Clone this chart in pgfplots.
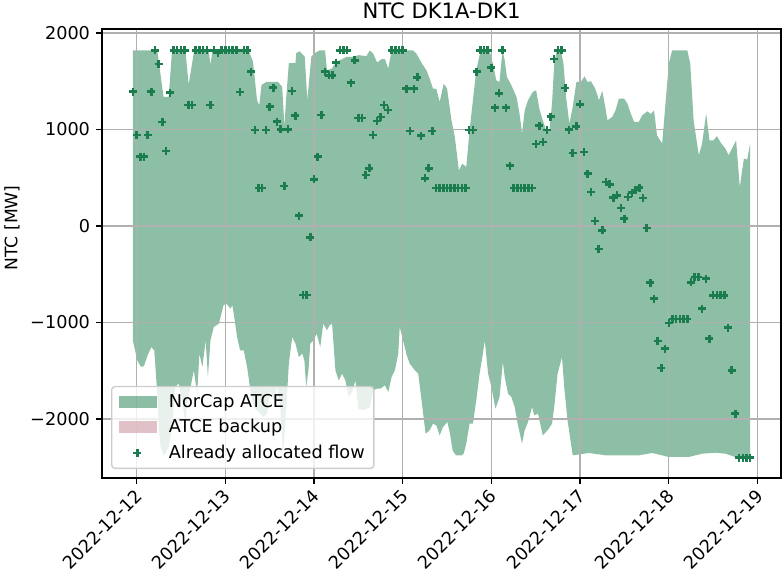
\documentclass[border=0pt]{standalone}
\usepackage{fontspec}
\setmainfont{DejaVu Sans}
\usepackage{pgfplots}
\pgfplotsset{compat=1.18}
\definecolor{ncgreen}{RGB}{27,125,77}
\definecolor{atcepink}{RGB}{218,178,187}
\definecolor{gridgray}{RGB}{176,176,176}
\pgfplotsset{patchlegend/.style={legend image code/.code={\fill[sharp corners] (0pt,-3.7pt) rectangle (22.5pt,3.7pt); \path (0pt,0pt) (28pt,0pt);}}}
\begin{document}
\begin{tikzpicture}
\begin{axis}[
  scale only axis,
  width=407.4pt, height=269.4pt,
  xmin=-9.35, xmax=174.35, ymin=-2611, ymax=2041,
  axis on top,
  grid=major,
  grid style={gridgray, line width=0.8pt},
  axis line style={line width=0.8pt},
  tick style={black, line width=0.8pt},
  tick align=outside, tick pos=left,
  major tick length=3.5pt,
  xtick={0,24,48,72,96,120,144,168},
  xticklabels={2022-12-12,2022-12-13,2022-12-14,2022-12-15,2022-12-16,2022-12-17,2022-12-18,2022-12-19},
  ytick={-2000,-1000,0,1000,2000},
  yticklabels={−2000,−1000,0,1000,2000},
  ticklabel style={font=\fontsize{10.6}{12.7}\selectfont},
  xticklabel style={rotate=45, anchor=north east, inner sep=0pt, xshift=-2.8pt, yshift=-0.5pt},
  yticklabel style={inner sep=0pt, xshift=-3.5pt},
  title={NTC DK1A-DK1},
  every axis title/.style={font=\fontsize{12.7}{15}\selectfont, at={(0.5,1)}, anchor=base, yshift=6pt},
  ylabel={NTC [MW]},
  every axis y label/.style={font=\fontsize{10.3}{12.4}\selectfont, at={(axis description cs:-0.1325,0.557)}, anchor=center, rotate=90},
  legend cell align=left,
  legend style={at={(axis description cs:0.0133,0.02)}, anchor=south west,
    draw=black!20, line width=0.8pt, rounded corners=2pt, fill=white, fill opacity=0.8, text opacity=1,
    font=\fontsize{10.6}{12.7}\selectfont, row sep=2.8pt, inner xsep=4pt, inner ysep=3pt,
    nodes={inner sep=1.5pt}},
]
\addplot[draw=none, fill=ncgreen, fill opacity=0.5, patchlegend] coordinates {
(-1,1820) (5.6,1820) (7.3,1337) (8.7,1337) (9.6,1820) (13.2,1820) (14.1,1465) (15.6,1820)
(19.5,1820) (20,1665) (20.5,1820) (30.3,1820) (31.5,1703) (32.6,1302) (33.2,1250) (33.8,1461)
(35.1,1492) (38.3,1492) (39.4,1440) (40,1030) (40.5,1337) (41.2,1686) (43,1690) (43.2,1790)
(44.1,1810) (45.5,1755) (46.2,1306) (47.3,1758) (48.6,1800) (49.6,1820) (51,1820) (51.5,1614)
(52.8,1630) (54.1,1700) (56.8,1751) (58.6,1751) (60,1770) (62.2,1760) (63.1,1820) (64,1786)
(65.1,1693) (66.3,1730) (67.2,1730) (68.1,1630) (69,1820) (74.8,1820) (75.7,1786) (77.5,1665)
(78.4,1614) (79.3,1527) (80.2,1424) (81.1,1420) (82,1285) (83.1,1475) (84,1424) (85.2,1095)
(86.1,922) (87.2,577) (88.1,646) (89.2,612) (90.1,992) (91,1302) (91.9,1614) (92.8,1770)
(93.7,1820) (95.5,1820) (96.4,1683) (97.3,1510) (98.2,1492) (99,1820) (99.6,1717) (100.2,1544)
(101.4,1458) (102.8,1337) (103.6,1165) (104.3,957) (105,1199) (105.9,1302) (107.2,1389) (108.1,1406)
(109,1210) (109.9,1095) (110.8,992) (111.7,992) (112.4,1268) (113,1683) (113.7,1820) (114.8,1820)
(115.5,1683) (116.2,1337) (117.1,1061) (118,1233) (119,1492) (120.2,1492) (121.2,1551) (122,1492)
(122.9,1500) (124.1,1424) (125.1,1302) (126,1399) (126.8,1233) (127.4,1095) (128.7,1130) (129.6,1199)
(130.5,1320) (131.9,1320) (132.8,1268) (133.7,1165) (134.6,1078) (135.9,1078) (136.8,1147) (138.2,1188)
(139.1,1160) (140,1199) (140.8,940) (142.2,854) (143.1,1268) (144,1683) (144.9,1820) (149,1820)
(149.8,1683) (150.7,1095) (152.1,733) (153,854) (154.1,1165) (155,888) (156.1,888) (157,930)
(158.2,854) (159.3,802) (160.2,733) (161.1,802) (162.2,888) (163.2,404) (164.3,698) (165.2,688)
(166,854)
(166,-2393) (162,-2393) (159.3,-2359) (156.6,-2349) (153,-2359) (149.4,-2393) (144,-2393) (139.5,-2352)
(135.9,-2376) (133.3,-2376) (126.9,-2376) (122.4,-2352) (118,-2376) (116.6,-2014) (115.7,-1668) (115.1,-1357)
(113.9,-1530) (113,-1876) (112.4,-2048) (111.2,-2117) (109.9,-2169) (108.6,-1944) (107.6,-1962) (107,-1876)
(105.9,-2031) (105,-2117) (104.3,-2255) (103.1,-2048) (102.3,-1876) (101.4,-1772) (100.5,-1737) (99.6,-1564)
(99.1,-1409) (98.2,-1772) (97.1,-1893) (96,-1668) (95.1,-1530) (94.2,-1184) (93.7,-1322) (92.8,-1530)
(91.9,-1806) (91,-2048) (90.1,-2048) (89.2,-2255) (88.5,-2359) (87.9,-2376) (86.4,-2376) (85.5,-2325)
(84.8,-2152) (84.1,-2031) (82.9,-2083) (82,-2169) (81.1,-2065) (80.2,-2048) (79.3,-2117) (78.2,-2152)
(77.1,-1806) (76.2,-1530) (75.3,-1495) (73.9,-1426) (73.1,-1340) (72.1,-1184) (71.2,-1046) (70.8,-1322)
(69.9,-1495) (69,-1564) (68.1,-1720) (67.2,-1651) (65.9,-1686) (65,-1686) (64,-1703) (63.1,-1876)
(61.4,-1910) (60,-1893) (59.2,-1599) (58.3,-1720) (57.4,-1772) (56.5,-1599) (55.6,-1530) (54.7,-1599)
(53.8,-1495) (52.9,-1011) (52.2,-1030) (51.5,-1080) (50.5,-1011) (49.7,-1254) (48.7,-1115) (47.9,-1184)
(47,-1219) (46.5,-1495) (45.9,-1668) (45.4,-1392) (44.8,-1322) (43.9,-1357) (43,-1219) (42.1,-1150)
(41.2,-1426) (40.2,-2083) (39.6,-2380) (38.9,-1876) (38,-1668) (37.1,-1806) (36.2,-1703) (35.3,-1944)
(34.4,-1980) (33.5,-1944) (32.6,-1910) (31.7,-1876) (30.8,-1703) (29.9,-1461) (29,-1288) (28,-1288)
(27.2,-1150) (26.3,-908) (25.9,-822) (25.4,-856) (24.3,-804) (23.5,-822) (22.3,-1011) (20.9,-1046)
(20,-1184) (19.3,-1564) (18.7,-1184) (17.8,-1461) (17,-1322) (16.4,-1737) (15.5,-1495) (14.6,-1668)
(13.7,-1840) (13.2,-2048) (12.3,-1806) (11.4,-1630) (10.5,-1668) (9.6,-2083) (8.7,-2290) (7.4,-2380)
(6.5,-2290) (6,-2083) (5.6,-1737) (4.8,-1290) (4,-1254) (3,-1340) (2,-1450) (1.2,-1461)
(0.2,-1392) (-1,-1184)
} -- cycle;
\addlegendentry{NorCap ATCE}
\addlegendimage{patchlegend, fill=atcepink, draw=none}
\addlegendentry{ATCE backup}
\addplot[only marks, mark=+, mark size=2.4pt, color=ncgreen, mark options={line width=1.5pt},
  legend image code/.code={\draw plot coordinates {(11pt,0pt)}; \path (0pt,0pt) (28pt,0pt);}] table {
x y
-1 1393
0 943
1 719
2 719
3 943
4 1393
5 1820
6 1676
7 1075
8 777
9 1382
10 1820
11 1820
12 1820
13 1820
14 1254
15 1254
16 1820
17 1820
18 1820
19 1820
20 1254
21 1820
22 1790
23 1820
24 1820
25 1820
26 1820
27 1820
28 1390
29 1820
30 1820
31 1600
32 995
33 391
34 391
35 995
36 1237
37 1434
38 1080
39 1000
40 415
41 1000
42 1399
43 1144
44 108
45 -715
46 -715
47 -117
48 484
49 719
50 1150
51 1600
52 1560
53 1560
54 1693
55 1820
56 1820
57 1820
58 1486
59 1717
60 1119
61 1119
62 529
63 598
64 945
65 1090
66 1128
67 1254
68 1200
69 1820
70 1820
71 1820
72 1820
73 1424
74 985
75 1424
76 1540
77 937
78 494
79 598
80 985
81 395
82 395
83 395
84 395
85 395
86 395
87 395
88 395
89 395
90 995
91 995
92 1600
93 1820
94 1820
95 1820
96 1641
97 1227
98 1375
99 1820
100 1227
101 626
102 395
103 395
104 395
105 395
106 395
107 395
108 847
109 1040
110 870
111 995
112 1133
113 1728
114 1820
115 1820
116 1432
117 999
118 757
119 1033
120 1261
121 767
122 543
123 352
124 52
125 -241
126 -45
127 456
128 432
129 294
130 318
131 187
132 77
133 301
134 345
135 375
136 398
137 290
138 -21
139 -587
140 -753
141 -1190
142 -1471
143 -1271
144 -1005
145 -965
146 -965
147 -965
148 -965
149 -965
150 -585
151 -528
152 -528
153 -856
154 -545
155 -1167
156 -718
157 -718
158 -718
159 -718
160 -1053
161 -1495
162 -1944
163 -2400
164 -2400
165 -2400
166 -2400
};
\addlegendentry{Already allocated flow}
\end{axis}
\pgfresetboundingbox
\path[use as bounding box] (current axis.south west) ++(-61.2pt,-57.6pt) rectangle ++(470.4pt,344.4pt);
\end{tikzpicture}
\end{document}
